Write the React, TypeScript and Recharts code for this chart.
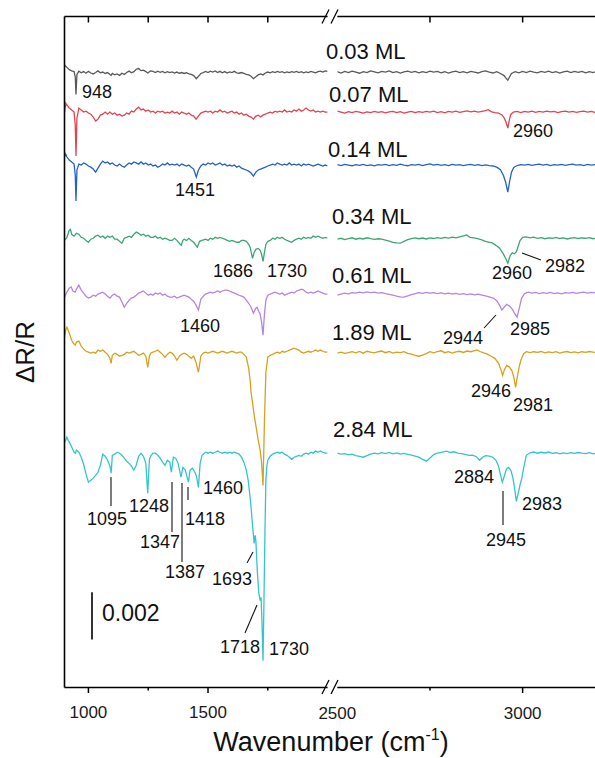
import { LineChart, Line, XAxis, YAxis, ReferenceLine } from 'recharts';

// ΔR/R in units of 1e-3, relative to each spectrum's own baseline; [wavenumber, value]
const L_003: [number, number][] = [[900,0.3],[910,0.2],[920,0.1],[930,0.05],[940,0.02],[945,-0.2],[948,-0.95],[952,-0.1],[960,0.04],[970,-0.03],[980,0.02],[990,-0.05],[1000,0.03],[1010,-0.04],[1020,-0.08],[1030,-0.02],[1040,0.05],[1050,-0.03],[1060,0],[1070,-0.06],[1080,-0.02],[1090,-0.1],[1095,-0.14],[1100,-0.06],[1110,-0.12],[1120,-0.08],[1130,-0.14],[1140,-0.05],[1150,-0.1],[1160,-0.02],[1170,0.04],[1180,-0.03],[1190,0.02],[1200,0.12],[1210,0.15],[1220,0.06],[1230,0.08],[1240,0.02],[1248,-0.04],[1260,0.05],[1270,0.03],[1280,-0.02],[1290,0.04],[1300,-0.01],[1310,0.03],[1320,-0.03],[1330,0.02],[1340,-0.02],[1350,0.01],[1360,-0.04],[1370,0],[1380,-0.05],[1390,-0.02],[1400,-0.06],[1410,-0.03],[1420,-0.08],[1430,-0.1],[1440,-0.15],[1451,-0.28],[1460,-0.18],[1470,-0.06],[1480,-0.02],[1490,0.03],[1500,-0.02],[1510,0.04],[1520,0],[1530,0.05],[1540,-0.02],[1550,0.03],[1560,-0.03],[1570,0.02],[1580,-0.04],[1590,0.01],[1600,-0.02],[1610,0.03],[1620,-0.03],[1630,-0.05],[1640,-0.02],[1650,-0.06],[1660,-0.1],[1670,-0.12],[1680,-0.18],[1690,-0.28],[1700,-0.2],[1710,-0.12],[1720,-0.08],[1730,-0.12],[1740,-0.04],[1750,0],[1760,-0.03],[1770,0.02],[1780,-0.02],[1790,0.03],[1800,-0.01],[1810,0.02],[1820,-0.03],[1830,0.01],[1840,-0.02],[1850,0.02],[1860,-0.01],[1870,0.03],[1880,-0.02],[1890,0.02],[1900,-0.03],[1910,0.01],[1920,-0.02],[1930,0.03],[1940,0],[1950,-0.03],[1960,0.02],[1970,0.04],[1980,0],[1990,0.05],[2000,0.03]];
const L_007: [number, number][] = [[900,-0.04],[905,0.38],[910,0.3],[920,0.17],[930,0.09],[940,0],[945,-0.55],[948,-1.87],[952,-0.26],[960,0.17],[970,0.09],[980,0],[990,0.04],[1000,-0.04],[1010,-0.09],[1020,-0.21],[1030,-0.38],[1040,-0.3],[1050,-0.13],[1060,-0.09],[1070,0],[1080,-0.09],[1090,0],[1100,-0.09],[1110,-0.04],[1120,-0.13],[1130,-0.09],[1140,-0.17],[1150,-0.13],[1160,-0.04],[1170,-0.09],[1180,0.04],[1190,0],[1200,0.13],[1210,0.21],[1220,0.09],[1230,0.13],[1240,0.04],[1250,0.09],[1260,0],[1270,0.04],[1280,-0.04],[1290,0.04],[1300,0],[1310,0.04],[1320,-0.04],[1330,0],[1340,-0.04],[1350,0.04],[1360,-0.04],[1370,0],[1380,-0.09],[1390,0],[1400,-0.04],[1410,-0.09],[1420,-0.04],[1430,-0.13],[1440,-0.17],[1450,-0.3],[1460,-0.17],[1470,-0.04],[1480,0],[1490,0.04],[1500,0],[1510,0.04],[1520,-0.04],[1530,0.04],[1540,0],[1550,0.09],[1560,0],[1570,0.04],[1580,-0.04],[1590,0],[1600,0.04],[1610,-0.04],[1620,0],[1630,-0.09],[1640,-0.04],[1650,-0.13],[1660,-0.09],[1670,-0.17],[1680,-0.21],[1690,-0.3],[1700,-0.17],[1710,-0.13],[1720,-0.21],[1730,-0.13],[1740,-0.09],[1750,-0.04],[1760,0],[1770,-0.04],[1780,0.04],[1790,0],[1800,0.04],[1810,0],[1820,0.09],[1830,0],[1840,0.04],[1850,0],[1860,0.09],[1870,0.04],[1880,0.13],[1890,0.04],[1900,0.09],[1910,0.17],[1920,0.09],[1930,0.04],[1940,0.09],[1950,0],[1960,0.04],[1970,0],[1980,0.04],[1990,0],[2000,0]];
const L_014: [number, number][] = [[900,0.34],[905,0.47],[910,0.34],[920,0.21],[930,0.13],[940,0.04],[945,-0.43],[948,-1.53],[952,-0.21],[960,0.04],[970,0],[980,0.09],[990,0.04],[1000,-0.04],[1010,-0.09],[1020,-0.17],[1030,-0.3],[1040,-0.13],[1050,0.04],[1060,0.17],[1070,0.09],[1080,0.13],[1090,0.04],[1100,0.09],[1110,0],[1120,-0.04],[1130,0.04],[1140,-0.04],[1150,-0.09],[1160,0],[1170,0.09],[1180,0.04],[1190,0.13],[1200,0.09],[1210,0.04],[1220,0.13],[1230,0.04],[1240,0.09],[1250,0],[1260,0.04],[1270,-0.04],[1280,0],[1290,-0.09],[1300,-0.04],[1310,0.04],[1320,0],[1330,0.09],[1340,0],[1350,0.04],[1360,0],[1370,0.04],[1380,-0.04],[1390,0.04],[1400,0],[1410,-0.04],[1420,0],[1430,-0.09],[1440,-0.17],[1451,-0.51],[1460,-0.21],[1470,-0.04],[1480,0.04],[1490,0],[1500,0.09],[1510,0.04],[1520,0.09],[1530,0],[1540,0.04],[1550,0.09],[1560,0],[1570,0.04],[1580,-0.04],[1590,0],[1600,-0.04],[1610,0],[1620,-0.09],[1630,-0.04],[1640,-0.13],[1650,-0.17],[1660,-0.21],[1670,-0.26],[1680,-0.34],[1690,-0.47],[1700,-0.3],[1710,-0.21],[1720,-0.17],[1730,-0.13],[1740,-0.09],[1750,-0.04],[1760,0],[1770,0.04],[1780,0],[1790,0.09],[1800,0.04],[1810,0],[1820,0.04],[1830,0],[1840,0.09],[1850,0],[1860,0.04],[1870,0],[1880,0.04],[1890,-0.04],[1900,0.04],[1910,0],[1920,0.04],[1930,0],[1940,-0.04],[1950,0],[1960,0.04],[1970,0],[1980,-0.04],[1990,0],[2000,-0.04]];
const L_034: [number, number][] = [[900,-0.09],[910,0.04],[920,0.34],[925,0.38],[930,0.17],[940,0.09],[950,0.21],[960,0.17],[970,0.04],[980,0],[990,-0.09],[1000,-0.17],[1010,-0.04],[1020,0],[1030,0.09],[1040,0.13],[1050,0.04],[1060,0.09],[1070,0],[1080,0.09],[1090,0.04],[1100,0.09],[1110,-0.04],[1120,-0.04],[1130,-0.13],[1140,-0.21],[1150,0],[1160,0.04],[1170,0.09],[1180,0.04],[1190,0.17],[1200,0.26],[1210,0.21],[1220,0.13],[1230,0.17],[1240,0.09],[1250,0.13],[1260,0.04],[1270,0.04],[1280,0.09],[1290,0],[1300,0.04],[1310,-0.04],[1320,0],[1330,-0.04],[1340,-0.09],[1350,-0.09],[1360,0],[1370,-0.09],[1380,-0.21],[1388,-0.3],[1395,-0.09],[1400,-0.04],[1410,-0.09],[1420,0],[1430,-0.09],[1440,-0.17],[1455,-0.38],[1465,-0.13],[1475,-0.09],[1490,-0.04],[1500,-0.09],[1510,0],[1520,-0.04],[1530,0.04],[1540,0],[1550,0.04],[1560,0],[1570,-0.04],[1580,-0.09],[1590,-0.13],[1600,-0.09],[1610,-0.13],[1620,-0.17],[1630,-0.17],[1640,-0.09],[1650,-0.09],[1660,-0.13],[1670,-0.26],[1676,-0.38],[1686,-0.85],[1693,-0.6],[1700,-0.47],[1710,-0.43],[1718,-0.51],[1724,-0.68],[1730,-0.98],[1736,-0.6],[1742,-0.26],[1750,-0.13],[1760,-0.09],[1770,0],[1780,-0.04],[1790,0.04],[1800,0],[1810,0.04],[1820,-0.04],[1830,-0.09],[1840,-0.13],[1850,-0.17],[1860,-0.09],[1870,-0.04],[1880,0],[1890,-0.04],[1900,0.04],[1910,0],[1920,0.04],[1930,0],[1940,0.09],[1950,0.04],[1960,0.09],[1970,0.04],[1980,0],[1990,0.04],[2000,0]];
const L_061: [number, number][] = [[900,-0.17],[910,0.04],[920,0.21],[928,0.26],[935,0.09],[945,0.04],[950,0.17],[960,0.34],[970,0.13],[980,0],[990,-0.13],[1000,-0.21],[1010,-0.17],[1020,-0.09],[1030,-0.13],[1040,-0.04],[1050,0],[1060,0.04],[1070,-0.04],[1080,-0.13],[1090,-0.21],[1100,-0.09],[1110,-0.04],[1120,-0.13],[1130,-0.17],[1140,-0.38],[1150,-0.6],[1160,-0.43],[1170,-0.3],[1180,-0.21],[1190,-0.17],[1200,-0.09],[1210,0],[1220,0.04],[1230,0.09],[1240,0],[1250,-0.09],[1260,-0.04],[1270,-0.09],[1280,0],[1290,-0.04],[1300,0],[1310,-0.09],[1320,-0.04],[1330,-0.13],[1340,-0.17],[1350,-0.17],[1360,-0.13],[1370,-0.21],[1380,-0.17],[1390,-0.13],[1400,-0.09],[1410,-0.13],[1420,-0.17],[1430,-0.26],[1440,-0.34],[1450,-0.51],[1460,-0.72],[1470,-0.26],[1480,-0.13],[1490,-0.04],[1500,0],[1510,0.04],[1520,0],[1530,0.04],[1540,0.09],[1550,0.04],[1560,0.09],[1570,0.13],[1580,0.13],[1590,0.09],[1600,0.04],[1610,0],[1620,-0.04],[1630,-0.09],[1640,-0.13],[1650,-0.17],[1660,-0.3],[1670,-0.43],[1680,-0.6],[1690,-0.85],[1700,-0.64],[1705,-0.6],[1712,-0.77],[1718,-0.89],[1724,-1.23],[1730,-1.79],[1736,-0.89],[1742,-0.3],[1750,-0.09],[1760,-0.04],[1770,0],[1780,0.04],[1790,0],[1800,-0.04],[1810,0],[1820,-0.09],[1830,-0.04],[1840,0],[1850,0.04],[1860,0],[1870,0.09],[1880,0.13],[1890,0.17],[1900,0.13],[1910,0.04],[1920,0],[1930,0.04],[1940,0],[1950,0.04],[1960,0.09],[1970,0.04],[1980,0],[1990,-0.04],[2000,-0.04]];
const L_189: [number, number][] = [[900,0.64],[905,0.94],[910,1.06],[915,0.94],[920,0.81],[930,0.51],[937,0.38],[945,0.3],[950,0.43],[960,0.47],[970,0.26],[980,0.13],[990,0.04],[1000,0],[1010,-0.04],[1020,0],[1030,-0.04],[1040,0.09],[1050,0.04],[1060,0.09],[1070,0],[1080,-0.09],[1090,-0.26],[1095,-0.47],[1100,-0.13],[1110,-0.04],[1120,-0.09],[1130,-0.17],[1140,-0.13],[1150,-0.09],[1160,0],[1170,-0.04],[1180,0],[1190,0.04],[1200,-0.04],[1210,-0.13],[1220,-0.09],[1230,-0.04],[1240,-0.17],[1248,-0.64],[1255,-0.17],[1260,-0.04],[1270,0],[1280,0.04],[1290,0.09],[1300,0],[1310,-0.09],[1320,-0.21],[1330,-0.09],[1340,0],[1350,-0.04],[1360,-0.17],[1370,-0.34],[1380,-0.17],[1390,-0.09],[1400,-0.04],[1410,-0.09],[1420,-0.17],[1430,-0.26],[1440,-0.17],[1450,-0.43],[1460,-0.85],[1470,-0.17],[1480,-0.04],[1490,0],[1500,-0.04],[1510,0],[1520,0.04],[1530,0],[1540,-0.04],[1550,0],[1560,0.04],[1570,0],[1580,-0.04],[1590,0],[1600,0.04],[1610,0],[1620,-0.04],[1630,0],[1640,0],[1650,-0.09],[1660,-0.21],[1670,-0.68],[1676,-1.19],[1680,-1.7],[1686,-2.13],[1693,-2.68],[1700,-3.11],[1710,-3.74],[1718,-4.17],[1724,-4.68],[1730,-5.66],[1736,-2.89],[1742,-0.85],[1750,-0.21],[1760,-0.13],[1770,-0.09],[1780,-0.04],[1790,0],[1800,-0.04],[1810,0.04],[1820,0],[1830,0.04],[1840,0.09],[1850,0.13],[1860,0.17],[1870,0.13],[1880,0.09],[1890,0],[1900,-0.04],[1910,0],[1920,0.04],[1930,0],[1940,0.04],[1950,0.09],[1960,0.04],[1970,0.09],[1980,0.04],[1990,0],[2000,0]];
const L_284: [number, number][] = [[900,0.47],[905,0.55],[910,0.68],[915,0.55],[920,0.47],[930,0.26],[940,0.04],[945,0],[950,0.13],[960,0.04],[970,-0.17],[980,-0.47],[990,-0.89],[1000,-1.23],[1010,-1.15],[1020,-1.06],[1030,-0.94],[1040,-0.81],[1050,-0.51],[1060,-0.04],[1070,-0.13],[1080,-0.3],[1090,-0.55],[1095,-0.85],[1100,-0.09],[1110,-0.04],[1120,0.04],[1130,0],[1140,-0.09],[1150,-0.21],[1160,-0.34],[1170,-0.43],[1180,-0.55],[1190,-0.72],[1200,-0.51],[1210,-0.13],[1220,0],[1230,-0.13],[1240,-0.43],[1248,-1.7],[1255,-0.26],[1262,-0.09],[1270,0],[1280,0],[1290,-0.09],[1300,-0.21],[1310,-0.38],[1320,-0.51],[1330,-0.3],[1340,-0.38],[1347,-0.81],[1355,-0.17],[1365,-0.21],[1375,-0.43],[1387,-1.02],[1395,-0.6],[1405,-0.72],[1418,-1.23],[1425,-0.72],[1435,-0.64],[1445,-0.81],[1452,-0.98],[1460,-1.45],[1467,-0.43],[1475,-0.09],[1490,0.04],[1500,0],[1510,0.04],[1520,0],[1530,0.04],[1540,0.09],[1550,0.04],[1560,0],[1570,0.04],[1580,0],[1590,0.04],[1600,0],[1610,0.04],[1620,0],[1630,-0.04],[1640,-0.17],[1650,-0.38],[1660,-0.72],[1668,-1.15],[1675,-1.79],[1680,-2.3],[1686,-3.06],[1690,-3.49],[1693,-3.83],[1697,-3.49],[1700,-3.7],[1706,-4.98],[1712,-5.91],[1718,-6.26],[1722,-6.13],[1726,-7.32],[1730,-8.81],[1734,-6.26],[1738,-3.4],[1742,-1.15],[1746,-0.55],[1750,-0.3],[1760,-0.13],[1770,-0.04],[1780,0],[1790,0.04],[1800,0],[1810,0.04],[1820,-0.04],[1830,-0.09],[1840,-0.17],[1850,-0.26],[1860,-0.17],[1870,-0.13],[1880,-0.09],[1890,-0.13],[1900,-0.04],[1910,0],[1920,-0.04],[1930,0.04],[1940,0],[1950,0.09],[1960,0.04],[1970,0.09],[1980,0.04],[1990,0],[2000,0]];

const R_003: [number, number][] = [[2500,0.02],[2510,-0.04],[2520,0.03],[2530,-0.02],[2540,0.04],[2550,0],[2560,-0.05],[2570,0.02],[2580,-0.02],[2590,0.05],[2600,0.01],[2610,-0.03],[2620,0.03],[2630,0],[2640,0.05],[2650,-0.02],[2660,0.02],[2670,-0.04],[2680,0.01],[2690,0.04],[2700,-0.01],[2710,0.03],[2720,-0.03],[2730,0.02],[2740,-0.02],[2750,0.04],[2760,0],[2770,0.03],[2780,-0.03],[2790,0.02],[2800,-0.04],[2810,0.01],[2820,0.04],[2830,-0.02],[2840,0.02],[2850,-0.03],[2860,0.03],[2870,0],[2880,-0.04],[2890,0.02],[2900,0.05],[2910,0],[2920,-0.04],[2930,0.02],[2940,-0.06],[2950,-0.15],[2955,-0.26],[2960,-0.34],[2965,-0.2],[2970,-0.06],[2980,0.02],[2990,-0.03],[3000,0.03],[3010,-0.02],[3020,0.04],[3030,0],[3040,-0.03],[3050,0.03],[3060,-0.01],[3070,0.04],[3080,-0.02],[3090,0.02],[3100,-0.04],[3110,0.01],[3120,0.04],[3130,-0.02],[3140,0.03],[3150,-0.01],[3160,0.03],[3170,-0.03],[3180,0.02],[3190,-0.02],[3200,0.03],[3210,0],[3220,0.03],[3230,-0.02],[3240,0.02],[3250,0]];
const R_007: [number, number][] = [[2500,0.04],[2510,0],[2520,-0.04],[2530,0.02],[2540,-0.02],[2550,0.03],[2560,0],[2570,-0.04],[2580,0.01],[2590,-0.02],[2600,0.03],[2610,-0.01],[2620,0.02],[2630,-0.03],[2640,0.01],[2650,0.03],[2660,-0.02],[2670,0.02],[2680,-0.04],[2690,0],[2700,0.03],[2710,-0.02],[2720,0.02],[2730,-0.01],[2740,0.03],[2750,0],[2760,0.04],[2770,-0.02],[2780,0.02],[2790,-0.03],[2800,0.03],[2810,0],[2820,0.04],[2830,-0.01],[2840,0.02],[2850,0.05],[2860,0.01],[2870,0.04],[2880,0],[2890,0.03],[2900,0.06],[2907,0.1],[2915,0.02],[2925,-0.02],[2935,-0.04],[2945,-0.13],[2950,-0.24],[2955,-0.42],[2960,-0.68],[2964,-0.34],[2968,-0.1],[2975,0],[2985,0.03],[2995,-0.02],[3005,0.03],[3015,0],[3025,0.04],[3035,-0.01],[3045,0.03],[3055,0],[3065,0.04],[3075,0.01],[3085,0.03],[3095,-0.02],[3105,0.02],[3115,0.04],[3125,0],[3135,0.03],[3145,-0.01],[3155,0.02],[3165,0.04],[3175,0],[3185,0.03],[3195,-0.01],[3205,0.02],[3215,0.03],[3225,0],[3235,0.02],[3250,0.01]];
const R_014: [number, number][] = [[2500,0.02],[2510,-0.02],[2520,0.03],[2530,0],[2540,-0.03],[2550,0.02],[2560,-0.01],[2570,0.03],[2580,-0.02],[2590,0.01],[2600,-0.03],[2610,0.02],[2620,0],[2630,0.03],[2640,-0.02],[2650,0.02],[2660,-0.01],[2670,0.04],[2680,0],[2690,-0.03],[2700,0.02],[2710,0],[2720,0.03],[2730,-0.02],[2740,0.02],[2750,0.05],[2760,0],[2770,0.03],[2780,-0.01],[2790,0.02],[2800,-0.02],[2810,0.03],[2820,0],[2830,0.02],[2840,-0.02],[2850,0.01],[2860,0.03],[2870,-0.01],[2880,0.02],[2890,-0.02],[2900,0.01],[2910,-0.02],[2920,-0.04],[2930,-0.09],[2940,-0.2],[2948,-0.43],[2954,-0.72],[2960,-1.15],[2965,-0.68],[2970,-0.3],[2976,-0.1],[2985,-0.02],[2995,0.02],[3005,0],[3015,0.03],[3025,-0.01],[3035,0.02],[3045,0.04],[3055,0],[3065,0.03],[3075,-0.02],[3085,0.02],[3095,0],[3105,0.03],[3115,-0.01],[3125,0.02],[3135,0.04],[3145,0],[3155,0.02],[3165,-0.02],[3175,0.03],[3185,0],[3195,0.02],[3210,0.01],[3230,0.03],[3250,0]];
const R_034: [number, number][] = [[2500,-0.04],[2510,0],[2520,-0.06],[2530,-0.02],[2540,0.02],[2550,-0.04],[2560,0],[2570,-0.03],[2580,0.02],[2590,-0.02],[2600,-0.05],[2610,-0.02],[2620,-0.04],[2630,-0.08],[2640,-0.12],[2650,-0.17],[2660,-0.2],[2670,-0.21],[2680,-0.13],[2690,-0.06],[2700,-0.02],[2710,0.02],[2720,-0.02],[2730,0.01],[2740,-0.03],[2750,0.02],[2760,-0.01],[2770,0.03],[2780,0],[2790,0.04],[2800,0.01],[2810,0.05],[2820,0.02],[2830,0.06],[2840,0.1],[2849,0.14],[2858,0.04],[2868,0.02],[2878,-0.02],[2888,-0.06],[2898,-0.12],[2908,-0.16],[2918,-0.2],[2928,-0.3],[2938,-0.42],[2947,-0.64],[2954,-0.85],[2960,-1.06],[2966,-0.74],[2972,-0.62],[2978,-0.66],[2983,-0.58],[2988,-0.34],[2993,-0.1],[3000,0.04],[3010,0.06],[3020,0.02],[3030,0.05],[3040,0],[3050,0.03],[3060,-0.02],[3070,0.02],[3080,0],[3090,0.04],[3100,-0.01],[3110,0.02],[3120,-0.03],[3130,0.01],[3140,0.03],[3150,-0.01],[3160,0.02],[3170,0],[3180,0.03],[3190,-0.02],[3200,0.01],[3220,0.02],[3235,-0.01],[3250,0.01]];
const R_061: [number, number][] = [[2500,-0.09],[2510,-0.04],[2520,0],[2530,-0.03],[2540,0.02],[2550,0],[2560,0.04],[2570,0.01],[2580,0.05],[2590,0.02],[2600,0.04],[2610,0],[2620,0.02],[2630,-0.02],[2640,-0.05],[2650,-0.09],[2660,-0.13],[2670,-0.16],[2680,-0.17],[2690,-0.12],[2700,-0.06],[2710,-0.02],[2720,0.02],[2730,-0.01],[2740,0.03],[2750,0],[2760,0.02],[2770,-0.02],[2780,0.01],[2790,-0.03],[2800,0],[2810,-0.04],[2820,-0.01],[2830,-0.05],[2840,-0.02],[2850,-0.06],[2860,-0.03],[2870,-0.07],[2880,-0.04],[2890,-0.08],[2900,-0.12],[2912,-0.17],[2922,-0.22],[2930,-0.32],[2938,-0.52],[2944,-0.72],[2950,-0.6],[2957,-0.48],[2965,-0.56],[2972,-0.68],[2978,-0.85],[2985,-1.02],[2991,-0.64],[2997,-0.22],[3005,-0.02],[3015,0.04],[3025,0],[3035,0.03],[3045,-0.02],[3055,0.02],[3065,-0.01],[3075,0.03],[3085,-0.02],[3095,0.01],[3105,-0.03],[3115,0.02],[3125,0],[3135,0.03],[3145,-0.01],[3155,0.02],[3165,0.04],[3175,0],[3185,0.03],[3195,0.01],[3210,0.03],[3230,0],[3250,0.02]];
const R_189: [number, number][] = [[2500,-0.04],[2510,0],[2520,-0.05],[2530,-0.02],[2540,0.02],[2550,-0.03],[2560,0.03],[2570,-0.04],[2580,0.04],[2590,0],[2600,-0.03],[2610,0.02],[2620,0.05],[2630,-0.02],[2640,0.03],[2650,-0.04],[2660,0],[2670,-0.02],[2680,0.02],[2690,-0.05],[2700,-0.08],[2710,-0.13],[2720,-0.17],[2730,-0.12],[2740,-0.06],[2750,0.02],[2760,-0.03],[2770,0.03],[2780,0.06],[2790,-0.02],[2800,0.02],[2810,-0.04],[2820,0.01],[2830,0.04],[2840,-0.01],[2850,0.05],[2860,0.02],[2870,0.07],[2877,0.1],[2885,0.03],[2895,-0.03],[2905,-0.08],[2915,-0.17],[2925,-0.26],[2935,-0.47],[2941,-0.72],[2946,-0.98],[2951,-0.74],[2957,-0.56],[2964,-0.62],[2971,-0.78],[2976,-1.06],[2981,-1.49],[2986,-1],[2991,-0.6],[2996,-0.3],[3003,-0.06],[3010,0.02],[3020,-0.02],[3030,0.02],[3040,-0.01],[3050,0.03],[3060,-0.03],[3070,0.01],[3080,-0.02],[3090,0.02],[3100,-0.04],[3110,0],[3120,0.03],[3130,-0.02],[3140,0.01],[3150,-0.03],[3160,0.02],[3170,-0.01],[3180,0.03],[3190,0],[3200,-0.02],[3220,0.02],[3235,-0.01],[3250,0.01]];
const R_284: [number, number][] = [[2500,0],[2510,-0.04],[2520,-0.02],[2530,-0.07],[2540,-0.04],[2550,-0.1],[2560,-0.13],[2570,-0.17],[2580,-0.1],[2590,-0.04],[2600,0],[2610,-0.03],[2620,0.02],[2630,-0.02],[2640,0.03],[2650,-0.03],[2660,0.01],[2670,-0.04],[2680,-0.01],[2690,-0.05],[2700,-0.08],[2710,-0.12],[2720,-0.17],[2730,-0.26],[2741,-0.34],[2750,-0.2],[2760,-0.06],[2770,0],[2780,0.04],[2795,0.09],[2805,0.03],[2815,0.06],[2825,0],[2835,-0.02],[2845,-0.05],[2855,-0.09],[2865,-0.08],[2875,-0.15],[2884,-0.3],[2892,-0.17],[2900,-0.1],[2910,-0.12],[2920,-0.17],[2928,-0.3],[2935,-0.55],[2940,-0.9],[2945,-1.23],[2950,-1],[2956,-0.68],[2962,-0.6],[2968,-0.72],[2973,-1],[2978,-1.45],[2983,-2.04],[2988,-1.7],[2993,-1.35],[2998,-1.05],[3003,-0.6],[3010,-0.09],[3020,0.02],[3030,0.05],[3040,0],[3050,0.04],[3060,0.01],[3070,0.05],[3080,-0.01],[3090,0.02],[3100,-0.03],[3110,0.01],[3120,-0.02],[3130,0.02],[3140,-0.01],[3150,0.03],[3160,0],[3170,-0.02],[3180,0.02],[3190,-0.03],[3200,0.01],[3215,-0.01],[3230,0.02],[3250,0]];

const COVERAGES = ['0.03 ML', '0.07 ML', '0.14 ML', '0.34 ML', '0.61 ML', '1.89 ML', '2.84 ML'];
const OFFSETS = [26.14, 24.44, 22.19, 19.08, 16.75, 14.24, 9.95];
const LEFT = [L_003, L_007, L_014, L_034, L_061, L_189, L_284];
const RIGHT = [R_003, R_007, R_014, R_034, R_061, R_189, R_284];
const LEFT_TICKS = [1000, 1250, 1500, 1750];
const RIGHT_TICKS = [2500, 2750, 3000];
const MAJOR = [1000, 1500, 2500, 3000];
const SCALE_BAR = { w: 1015, from: 2.04, size: 2 }; // 0.002 = 2 x 1e-3

const COLORS = ['#595959', '#e2434f', '#2462c6', '#3ba676', '#b585e4', '#d5a21c', '#33c5cb'];
const FONT = '"Liberation Sans", Arial, sans-serif';
const Y_MIN = -1;
const Y_MAX = 28.5;

// plot geometry, shared by the axis paddings and the tick marks
const PLOT_L = 64.5, PLOT_R = 615.3, BREAK_L = 327.6, BREAK_R = 337.3;
const TOP = 16.5, BOTTOM = 687;
const xPx = (w: number) => (w <= 2000
  ? PLOT_L + ((w - 900) * (BREAK_L - PLOT_L)) / 1100
  : BREAK_R + ((w - 2500) * (PLOT_R - BREAK_R)) / 750);

// coverage labels: [left x, baseline]
const COVERAGE_POS = [[326, 59], [329, 102], [328, 157], [332, 224], [332, 283], [332, 340], [333, 437]];
// peak labels: [text, left x, baseline]
const PEAKS: [string, number, number][] = [
  ['948', 82, 98], ['2960', 513, 137], ['1451', 175, 196],
  ['1686', 213, 277], ['1730', 267, 277], ['2960', 492, 279], ['2982', 545, 272],
  ['1460', 180, 332], ['2944', 443, 344], ['2985', 510, 335],
  ['2946', 471, 397], ['2981', 513, 411],
  ['1095', 87, 525], ['1248', 129, 512], ['1347', 140, 548], ['1387', 165, 578],
  ['1418', 185, 525], ['1460', 203, 494], ['1693', 212, 585], ['1718', 220, 653],
  ['1730', 269, 655], ['2884', 454, 483], ['2945', 486, 546], ['2983', 522, 510],
];
const LEADERS = [
  [522, 253, 541, 260], [484, 328, 496, 315],
  [111, 477, 111, 506], [172, 482, 172, 532], [182, 483, 182, 562], [188, 487, 188, 500],
  [247, 563, 253, 552], [245, 633, 257, 605], [503, 491, 503, 525],
];

const rows = (d: [number, number][], off: number) => d.map(([w, r]) => ({ w, v: r + off }));

const TickLabel = (props: any) => {
  const { x, y, payload } = props;
  if (!MAJOR.includes(payload.value)) return <g />;
  return <text x={x} y={y + 6.5} textAnchor="middle" fontSize={17} fontFamily={FONT} fill="#1a1a1a">{payload.value}</text>;
};

const frame = { stroke: '#000', strokeWidth: 1.6 };

export default function App() {
  const marks = [...LEFT_TICKS, 2750, 3000];
  return (
    <div style={{ position: 'fixed', left: 0, top: 0, width: 595, height: 758, overflow: 'hidden', background: '#fff' }}>
      <LineChart width={640} height={758} margin={{ top: TOP, right: 640 - PLOT_R, bottom: 45, left: PLOT_L }}>
        <XAxis xAxisId="L" type="number" dataKey="w" domain={[900, 2000]} allowDataOverflow padding={{ left: 0, right: PLOT_R - BREAK_L }}
          ticks={LEFT_TICKS} interval={0} height={1} tickSize={0} tickMargin={0} axisLine={false} tickLine={false} tick={TickLabel} />
        <XAxis xAxisId="R" type="number" dataKey="w" domain={[2500, 3250]} allowDataOverflow padding={{ left: BREAK_R - PLOT_L, right: 0 }}
          ticks={RIGHT_TICKS} interval={0} height={1} tickSize={0} tickMargin={0} axisLine={false} tickLine={false} tick={TickLabel} />
        <YAxis hide type="number" domain={[Y_MIN, Y_MAX]} allowDataOverflow />

        {LEFT.map((d, i) => (
          <Line key={'l' + i} xAxisId="L" data={rows(d, OFFSETS[i])} dataKey="v" type="linear" stroke={COLORS[i]}
            strokeWidth={1.3} dot={false} activeDot={false} isAnimationActive={false} />
        ))}
        {RIGHT.map((d, i) => (
          <Line key={'r' + i} xAxisId="R" data={rows(d, OFFSETS[i])} dataKey="v" type="linear" stroke={COLORS[i]}
            strokeWidth={1.3} dot={false} activeDot={false} isAnimationActive={false} />
        ))}

        <ReferenceLine xAxisId="L" segment={[{ x: 900, y: 0 }, { x: 2000, y: 0 }]} {...frame} />
        <ReferenceLine xAxisId="R" segment={[{ x: 2500, y: 0 }, { x: 3250, y: 0 }]} {...frame} />
        <ReferenceLine xAxisId="L" segment={[{ x: 900, y: Y_MAX }, { x: 2000, y: Y_MAX }]} {...frame} />
        <ReferenceLine xAxisId="R" segment={[{ x: 2500, y: Y_MAX }, { x: 3250, y: Y_MAX }]} {...frame} />
        <ReferenceLine xAxisId="L" segment={[{ x: 900, y: 0 }, { x: 900, y: Y_MAX }]} {...frame} />
        <ReferenceLine xAxisId="L" segment={[{ x: SCALE_BAR.w, y: SCALE_BAR.from }, { x: SCALE_BAR.w, y: SCALE_BAR.from + SCALE_BAR.size }]} {...frame} />
      </LineChart>

      <svg width={595} height={758} style={{ position: 'absolute', left: 0, top: 0, pointerEvents: 'none' }} fontFamily={FONT}>
        <g stroke="#000" strokeWidth={1.5}>
          {marks.map((t) => (
            <g key={t}>
              <line x1={xPx(t)} x2={xPx(t)} y1={BOTTOM} y2={BOTTOM + (MAJOR.includes(t) ? 6 : 3.5)} />
              <line x1={xPx(t)} x2={xPx(t)} y1={TOP} y2={TOP + 6} />
            </g>
          ))}
        </g>
        {[TOP, BOTTOM].map((y) => (
          <g key={y} stroke="#000" strokeWidth={1.3}>
            <line x1={322} y1={y + 7} x2={329} y2={y - 7} />
            <line x1={331} y1={y + 7} x2={338} y2={y - 7} />
          </g>
        ))}
        {COVERAGES.map((t, i) => (
          <text key={t} x={COVERAGE_POS[i][0]} y={COVERAGE_POS[i][1]} fontSize={22} fill="#111">{t}</text>
        ))}
        {PEAKS.map(([t, x, y], i) => (
          <text key={i} x={x} y={y} fontSize={18} fill="#111">{t}</text>
        ))}
        {LEADERS.map(([x1, y1, x2, y2], i) => (
          <line key={i} x1={x1} y1={y1} x2={x2} y2={y2} stroke="#111" strokeWidth={1.1} />
        ))}
        <text x={102} y={621} fontSize={23} fill="#111">0.002</text>
        <text x={0} y={0} transform="translate(34 352) rotate(-90)" textAnchor="middle" fontSize={26} fill="#111">ΔR/R</text>
        <text x={331} y={751} textAnchor="middle" fontSize={27} fill="#111">
          Wavenumber (cm<tspan dy={-11} fontSize={16}>-1</tspan><tspan dy={11}>)</tspan>
        </text>
      </svg>
    </div>
  );
}
